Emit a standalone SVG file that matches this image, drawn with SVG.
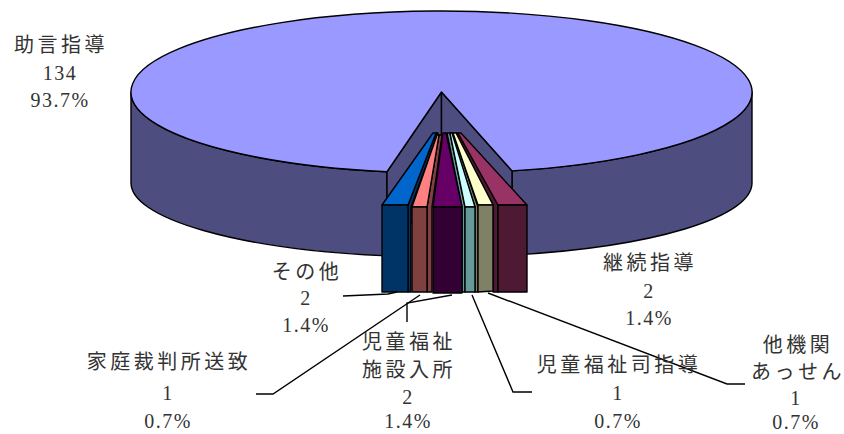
<svg xmlns="http://www.w3.org/2000/svg" width="844" height="434" viewBox="0 0 844 434">
<style>
.e{stroke:#000;stroke-width:1.4;stroke-linejoin:round}
.ld{fill:none;stroke:#000;stroke-width:1.4}
text{font-family:"Liberation Serif","Noto Sans CJK JP",serif;font-size:20px;fill:#333;text-anchor:middle}
.j{letter-spacing:3.5px}
.n{letter-spacing:1.5px}
</style>
<rect width="844" height="434" fill="#fff"/>
<g id="slice-jogen">
<path class="e" fill="#4d4d80" d="M131,92 L131,183 A310.5,74 0 0 0 387,255.85 L387,171.74 A310.5,81 0 0 1 131,92 Z"/>
<path class="e" fill="#4d4d80" d="M512,170.88 L512,255.07 A310.5,74 0 0 0 752,183 L752,92 A310.5,81 0 0 1 512,170.88 Z"/>
<path class="e" fill="#4d4d80" d="M441.5,92 L387,171.74 L387,255.85 L441.5,183 Z"/>
<path class="e" fill="#4d4d80" d="M441.5,92 L512,170.88 L512,255.07 L441.5,183 Z"/>
<path class="e" fill="#9999ff" d="M441.5,92 L387,171.74 A310.5,81 0 1 1 512,170.88 Z"/>
</g>
<g id="slice-sonota">
<path class="e" fill="#003366" d="M436,133 L438,133 L411,207 L411,292 L408,292 L408,205 Z"/>
<path class="e" fill="#0066cc" d="M433,133 L436,133 L408,205 L382,205 Z"/>
<path class="e" fill="#003366" d="M382,205 L408,205 L408,292 L382,292 Z"/>
</g>
<g id="slice-katei">
<path class="e" fill="#804040" d="M439,135 L442,135 L432,207 L432,292 L427,292 L427,207 Z"/>
<path class="e" fill="#ff8080" d="M437,135 L439,135 L427,207 L412,207 Z"/>
<path class="e" fill="#804040" d="M412,207 L427,207 L427,292 L412,292 Z"/>
</g>
<g id="slice-keizoku">
<path class="e" fill="#4d1933" d="M456,133 L458,133 L498,205 L498,292 L493,292 L493,205 Z"/>
<path class="e" fill="#993366" d="M458,133 L461,133 L527,205 L498,205 Z"/>
<path class="e" fill="#4d1933" d="M498,205 L527,205 L527,292 L498,292 Z"/>
</g>
<g id="slice-takikan">
<path class="e" fill="#808066" d="M451,133 L453,133 L478,207 L478,292 L475,292 L475,207 Z"/>
<path class="e" fill="#ffffcc" d="M453,133 L456,133 L493,205 L478,205 Z"/>
<path class="e" fill="#808066" d="M478,205 L493,205 L493,291 L478,292 Z"/>
</g>
<g id="slice-fukushishi">
<path class="e" fill="#669999" d="M447,133 L450,133 L465,207 L465,292 L462,292 L462,207 Z"/>
<path class="e" fill="#ccffff" d="M450,133 L452,133 L475,207 L465,207 Z"/>
<path class="e" fill="#669999" d="M465,207 L475,207 L475,292 L465,292 Z"/>
</g>
<g id="slice-shisetsu">
<path class="e" fill="#660066" d="M443,133 L446,133 L462,207 L433,207 Z"/>
<path class="e" fill="#330033" d="M433,207 L462,207 L462,293 L433,293 Z"/>
</g>
<g id="connectors">
<polyline class="ld" points="343,296 388,294 397,292"/>
<polyline class="ld" points="256,394 273,394 420,295"/>
<polyline class="ld" points="407,322 407,303 452,295"/>
<polyline class="ld" points="532,392 513,392 472,295"/>
<polyline class="ld" points="745,384 727,384 488,293"/>
</g>
<g id="label-jogen">
<text class="j" x="61" y="52">助言指導</text>
<text class="n" x="60" y="80">134</text>
<text class="n" x="60" y="107">93.7%</text>
</g>
<g id="label-sonota">
<text class="j" x="307" y="279">その他</text>
<text class="n" x="306" y="305">2</text>
<text class="n" x="306" y="332">1.4%</text>
</g>
<g id="label-shisetsu">
<text class="j" x="409" y="349">児童福祉</text>
<text class="j" x="409" y="377">施設入所</text>
<text class="n" x="408" y="404">2</text>
<text class="n" x="408" y="428">1.4%</text>
</g>
<g id="label-katei">
<text class="j" x="169" y="369">家庭裁判所送致</text>
<text class="n" x="168" y="400">1</text>
<text class="n" x="168" y="428">0.7%</text>
</g>
<g id="label-fukushishi">
<text class="j" x="619" y="372">児童福祉司指導</text>
<text class="n" x="618" y="400">1</text>
<text class="n" x="618" y="428">0.7%</text>
</g>
<g id="label-keizoku">
<text class="j" x="650" y="270">継続指導</text>
<text class="n" x="649" y="298">2</text>
<text class="n" x="649" y="325">1.4%</text>
</g>
<g id="label-takikan">
<text class="j" x="798" y="352">他機関</text>
<text class="j" x="798" y="379">あっせん</text>
<text class="n" x="796" y="405">1</text>
<text class="n" x="796" y="429">0.7%</text>
</g>
</svg>
